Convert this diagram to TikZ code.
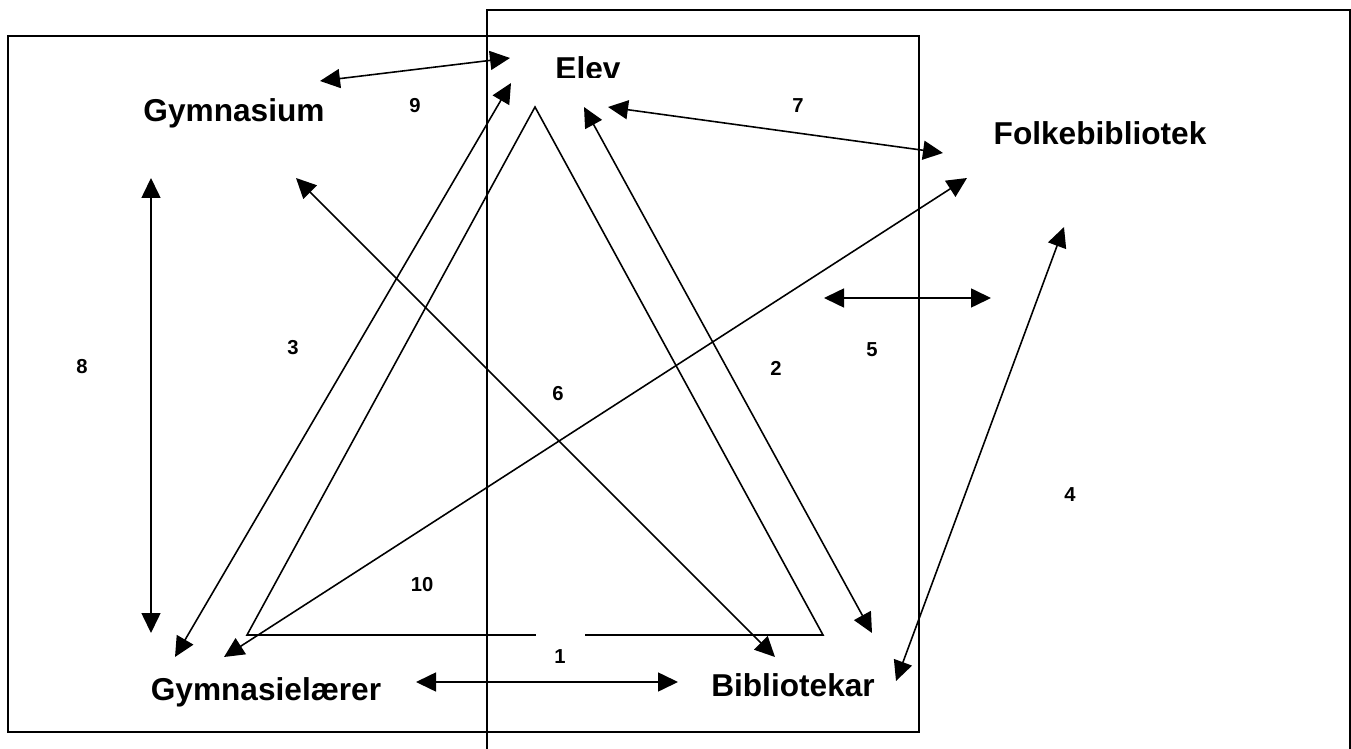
\documentclass[tikz,border=0pt]{standalone}
\usepackage{fontspec}
\setmainfont{Liberation Sans}
\usetikzlibrary{arrows.meta}

\begin{document}
\begin{tikzpicture}[x=0.02cm, y=-0.02cm, line width=0.9pt,
  arr/.style={{Triangle[length=0.4cm,width=0.38cm]}-{Triangle[length=0.4cm,width=0.38cm]}},
  actor/.style={font=\fontsize{18}{20}\selectfont\bfseries, anchor=base, inner sep=0pt},
  nr/.style={font=\fontsize{11.5}{13}\selectfont\bfseries, inner sep=0pt}]
\useasboundingbox (0,0) rectangle (1351,749);

% the two frames
\draw (8,36) rectangle (919,732);
\draw (487,749) -- (487,10) -- (1350,10) -- (1350,749);

% triangle
\coordinate (T-1) at (535,107);
\coordinate (T-2) at (247,635);
\coordinate (T-3) at (823,635);
\draw (T-2) -- (T-1) -- (T-3) -- cycle;

% actors
\begin{scope}
\clip (540,40) rectangle (640,77.5);
\node (Elev) at (588,80) [actor]{Elev};
\end{scope}
\node (Gym) at (234,122) [actor]{Gymnasium};
\node (Folk) at (1100,145) [actor]{Folkebibliotek};
\node (Laerer) at (266,700) [actor]{Gymnasielærer};
\node (Bib) at (793,696) [actor]{Bibliotekar};

% arrow ends
\coordinate (a1-1) at (416,682);  \coordinate (a1-2) at (678,682);
\coordinate (a2-1) at (584,107);  \coordinate (a2-2) at (872,633);
\coordinate (a3-1) at (175,657);  \coordinate (a3-2) at (511,83);
\coordinate (a4-1) at (896,681);  \coordinate (a4-2) at (1064,227);
\coordinate (a5-1) at (824,298);  \coordinate (a5-2) at (991,298);
\coordinate (a6-1) at (296,178);  \coordinate (a6-2) at (775,657);
\coordinate (a7-1) at (608,107);  \coordinate (a7-2) at (943,153);
\coordinate (a8-1) at (151,178);  \coordinate (a8-2) at (151,633);
\coordinate (a9-1) at (320,81);   \coordinate (a9-2) at (510,58);
\coordinate (a10-1) at (224,657); \coordinate (a10-2) at (967,178);

\draw [arr] (a1-1) -- (a1-2);
\draw [arr] (a2-1) -- (a2-2);
\draw [arr] (a3-1) -- (a3-2);
\draw [arr] (a4-1) -- (a4-2);
\draw [arr] (a5-1) -- (a5-2);
\draw [arr] (a6-1) -- (a6-2);
\draw [arr] (a7-1) -- (a7-2);
\draw [arr] (a8-1) -- (a8-2);
\draw [arr] (a9-1) -- (a9-2);
\draw [arr] (a10-1) -- (a10-2);

% numbers
\node (n1) at (560,657) [nr, fill=white, minimum width=0.98cm, minimum height=0.96cm]{1};
\node (n2) at (776,368) [nr]{2};
\node (n3) at (293,348) [nr]{3};
\node (n4) at (1070,495) [nr]{4};
\node (n5) at (872,350) [nr]{5};
\node (n6) at (558,394) [nr]{6};
\node (n7) at (798,106) [nr]{7};
\node (n8) at (82,367) [nr]{8};
\node (n9) at (415,106) [nr]{9};
\node (n10) at (422,585) [nr]{10};

\end{tikzpicture}
\end{document}
